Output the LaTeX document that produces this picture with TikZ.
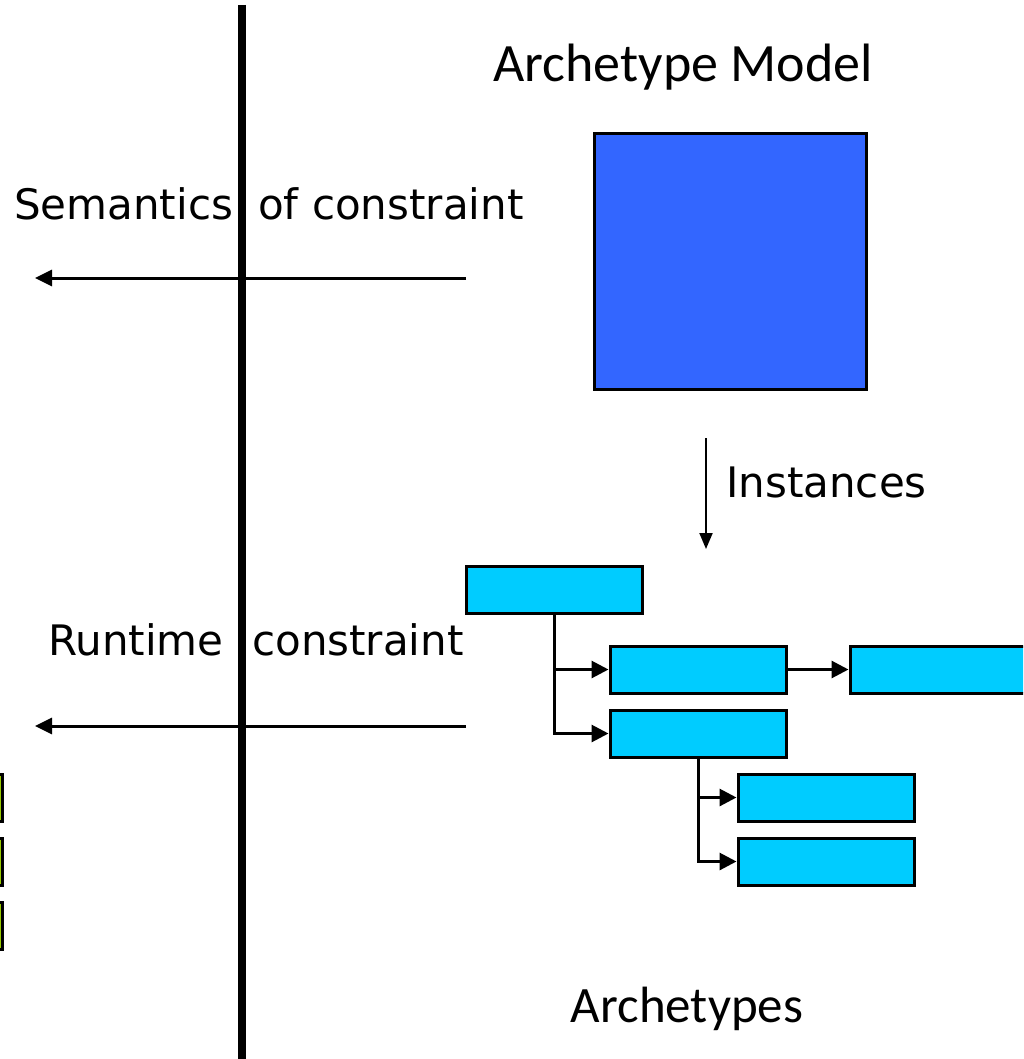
\documentclass[tikz,border=0pt]{standalone}
\usepackage{fontspec}
\setmainfont{DejaVu Sans}
\newfontfamily\titlefont{Carlito}
\usetikzlibrary{arrows.meta}
\definecolor{modelblue}{HTML}{3366FF}
\definecolor{archcyan}{HTML}{00CCFF}
\definecolor{leafgreen}{HTML}{99CC00}

\begin{document}
\begin{tikzpicture}[x=1pt,y=-1pt,
    arch/.style={draw,line width=3pt,fill=archcyan,minimum width=176pt,minimum height=47pt,inner sep=0pt},
    leaf/.style={arch,fill=leafgreen},
    tree/.style={line width=3pt,-{Triangle[length=17pt,width=17pt]}},
    lbl/.style={anchor=base west,inner sep=0pt,font=\fontsize{42}{48}\selectfont}]
      \useasboundingbox (0,0) rectangle (1023,1059);
      \clip (0,0) rectangle (1023,1059);

      % the model
      \node (model) at (730,261.5) [draw,line width=3pt,fill=modelblue,minimum width=272pt,minimum height=255pt,inner sep=0pt] {};
      \node (modeltxt) at (683,82) [anchor=base,inner sep=0pt,font=\titlefont\fontsize{54}{60}\selectfont] {Archetype Model};

      % instances
      \coordinate (insttop) at (706,438);
      \coordinate (instbot) at (706,549);
      \draw[line width=2pt,-{Triangle[length=16pt,width=13pt]}] (insttop) -- (instbot);
      \node (insttxt) at (726,497) [lbl] {Instances};

      % archetype tree
      \node (root) at (554,589.5) [arch] {};
      \node (a1) at (698,669.5) [arch] {};
      \node (a2) at (938,669.5) [arch] {};
      \node (a3) at (698,733.5) [arch] {};
      \node (a4) at (826,797.5) [arch] {};
      \node (a5) at (826,861.5) [arch] {};
      \draw[tree] (root.south) |- (a1.west);
      \draw[tree] (root.south) |- (a3.west);
      \draw[tree] (a1.east) -- (a2.west);
      \draw[tree] (a3.south) |- (a4.west);
      \draw[tree] (a3.south) |- (a5.west);
      \node (archtxt) at (687,1022) [anchor=base,inner sep=0pt,font=\titlefont\fontsize{51}{56}\selectfont] {Archetypes};

      % cut-off boxes on the left
      \node (g1) at (-86,797.5) [leaf] {};
      \node (g2) at (-86,861.5) [leaf] {};
      \node (g3) at (-86,925.5) [leaf] {};

      % divider
      \coordinate (divtop) at (241.5,5);
      \coordinate (divbot) at (241.5,1059);
      \draw[line width=8pt] (divtop) -- (divbot);

      % constraint arrows
      \coordinate (semR) at (466,278);
      \coordinate (semL) at (35,278);
      \draw[line width=3pt,-{Triangle[length=17pt,width=16pt]}] (semR) -- (semL);
      \node (semtxt) at (14,220) [lbl] {Semantics};
      \node (oftxt) at (258,220) [lbl] {of constraint};

      \coordinate (runR) at (466,726);
      \coordinate (runL) at (35,726);
      \draw[line width=3pt,-{Triangle[length=17pt,width=16pt]}] (runR) -- (runL);
      \node (runtxt) at (48,655) [lbl] {Runtime};
      \node (contxt) at (252,655) [lbl] {constraint};
\end{tikzpicture}
\end{document}
